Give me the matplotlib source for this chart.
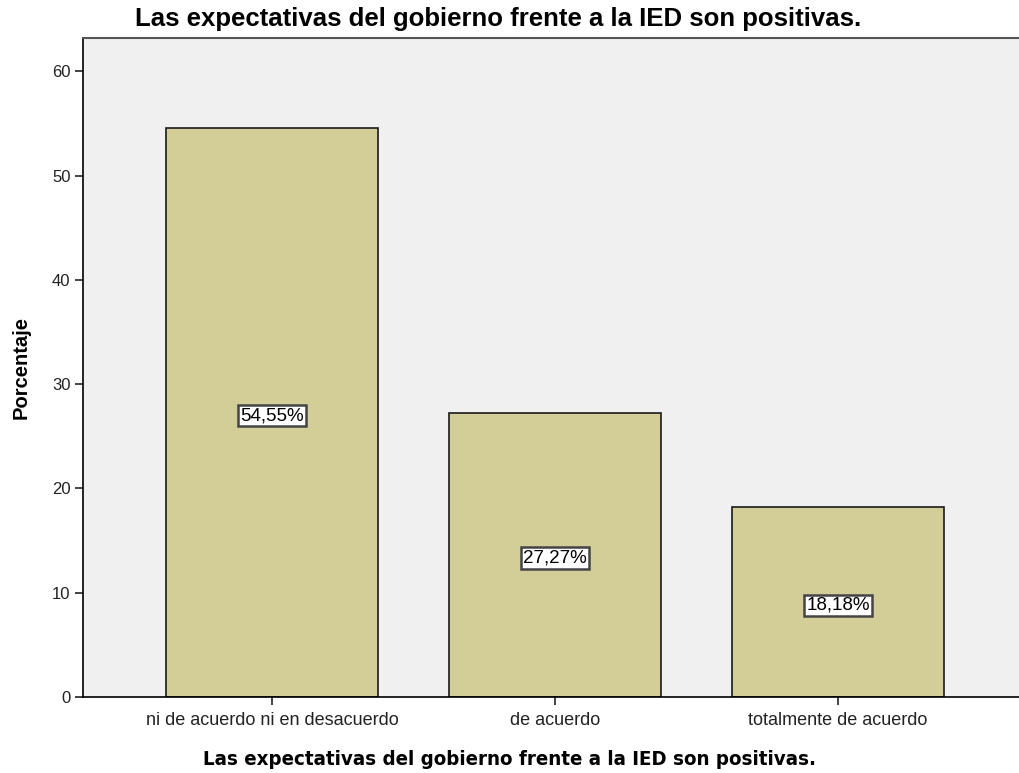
import matplotlib.pyplot as plt

categorias = ['ni de acuerdo ni en desacuerdo', 'de acuerdo', 'totalmente de acuerdo']
porcentajes = [54.55, 27.27, 18.18]
etiquetas = ['54,55%', '27,27%', '18,18%']
titulo = 'Las expectativas del gobierno frente a la IED son positivas.'

fig = plt.figure(figsize=(10.19, 7.73), dpi=100)
ax = fig.add_axes([83/1019, 76/773, 936/1019, 659/773])
ax.set_facecolor('#f0f0f0')

x = range(len(categorias))
ax.bar(x, porcentajes, width=0.75, color='#d3ce97', edgecolor='#1a1a1a', linewidth=1.2)

# etiquetas en el centro de cada barra
for i, v in enumerate(porcentajes):
    ax.text(i, v/2 - 0.3, etiquetas[i], ha='center', va='center', fontsize=13.5,
            family='Liberation Sans',
            bbox=dict(boxstyle='square,pad=0.12', facecolor='white', edgecolor='#444444', linewidth=1.8))

ax.set_xlim(-0.668, 2.64)
ax.set_ylim(0, 63.2)
ax.set_yticks([0, 10, 20, 30, 40, 50, 60])
ax.set_xticks(list(x))
ax.set_xticklabels(categorias, family='Liberation Sans', fontsize=13)
for lbl in ax.get_yticklabels():
    lbl.set_family('Liberation Sans')
    lbl.set_fontsize(12)
ax.tick_params(axis='both', direction='out', length=6, width=1.2, colors='#222222')
ax.tick_params(axis='x', pad=5)
ax.tick_params(axis='y', pad=3)

ax.spines['right'].set_visible(False)
ax.spines['top'].set_color('#555555')
ax.spines['top'].set_linewidth(1.5)
ax.spines['left'].set_linewidth(1.2)
ax.spines['bottom'].set_linewidth(1.2)

ax.set_xlabel(titulo, fontsize=14.7, fontweight='bold', family='DejaVu Sans',
              fontstretch='condensed')
ax.xaxis.set_label_coords(0.456, -0.080)
ax.set_ylabel('Porcentaje', fontsize=14.5, fontweight='bold', family='Liberation Sans')
ax.yaxis.set_label_coords(-0.056, 0.5)
fig.text(0.489, 0.991, titulo, ha='center', va='top', fontsize=18.5, fontweight='bold',
         family='Liberation Sans')

fig.savefig('out.png', dpi=100)
